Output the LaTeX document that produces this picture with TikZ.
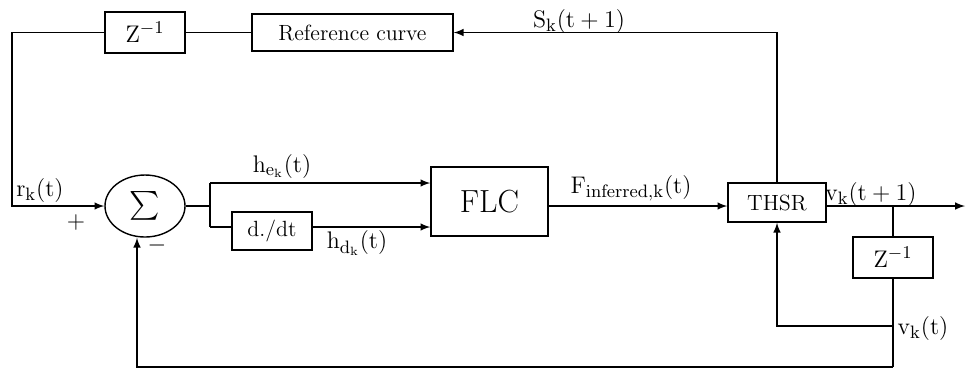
\documentclass[tikz,border=0pt]{standalone}
\usepackage{amsmath, amssymb}
\usepackage{tikz}
\usetikzlibrary{shapes.geometric}
\newcommand{\zinv}{$\mathrm{Z^{-1}}$}

\begin{document}
\begin{tikzpicture}[x=0.5pt, y=-0.5pt, >=latex, line width=0.7pt,
    blk/.style={draw, rectangle, inner sep=0pt},
    lbl/.style={font=\fontsize{12.5}{14}\selectfont, inner sep=0pt}]
    \useasboundingbox (0,0) rectangle (967,372);

    % Blocks
    \node[blk, minimum width=40pt, minimum height=20.5pt, font=\fontsize{13}{15}\selectfont] (zdel) at (145, 32.5) {\zinv};
    \node[blk, minimum width=100.5pt, minimum height=18.5pt, font=\fontsize{11}{13}\selectfont] (refc) at (352.5, 32.5) {Reference curve};
    \node[draw, ellipse, minimum width=40pt, minimum height=31pt, inner sep=0pt, font=\Large] (sum) at (145, 206) {$\sum$};
    \node[blk, minimum width=40pt, minimum height=19pt, font=\fontsize{11}{13}\selectfont] (ddt) at (272, 231) {d./dt};
    \node[blk, minimum width=58.5pt, minimum height=34.5pt, font=\fontsize{16}{18}\selectfont] (flc) at (489.5, 201.5) {FLC};
    \node[blk, minimum width=49pt, minimum height=19.5pt, font=\fontsize{11}{13}\selectfont] (thsr) at (777, 202.5) {THSR};
    \node[blk, minimum width=40pt, minimum height=20.5pt, font=\fontsize{13}{15}\selectfont] (zdel2) at (893, 257.5) {\zinv};

    % Branch points
    \coordinate (tl) at (12, 32.5);
    \coordinate (split) at (210, 206);
    \coordinate (hi) at (210, 183);
    \coordinate (lo) at (210, 227);
    \coordinate (tap) at (893, 206);
    \coordinate (fbk) at (893, 326);
    \coordinate (bot) at (893, 367);
    \coordinate (out) at (965, 206);

    % Signal lines
    \draw[->] (thsr.north) |- (refc.east);
    \draw (refc.west) -- (zdel.east);
    \draw[->] (zdel.west) -- (tl) |- (sum.west);
    \draw (sum.east) -- (split);
    \draw (hi) -- (lo);
    \draw[->] (hi) -- (hi -| flc.west);
    \draw (lo) -- (lo -| ddt.west);
    \draw[->] (lo -| ddt.east) -- (lo -| flc.west);
    \draw[->] (flc.east |- split) -- (thsr.west |- split);
    \draw[->] (thsr.east |- split) -- (out);
    \draw (tap) -- (zdel2.north);
    \draw (zdel2.south) -- (bot);
    \draw[->] (bot) -| ([xshift=-4pt]sum.south);
    \draw[->] (fbk) -| (thsr.south);

    % Labels
    \node[lbl] (slab) at (579, 21) {$\mathrm{S_k(t+1)}$};
    \node[lbl] (rlab) at (40, 190) {$\mathrm{r_k(t)}$};
    \node[lbl] (plus) at (76, 222) {$+$};
    \node[lbl] (minus) at (157, 245) {$-$};
    \node[lbl] (helab) at (282, 166) {$\mathrm{h_{e_k}(t)}$};
    \node[lbl] (hdlab) at (357, 243) {$\mathrm{h_{d_k}(t)}$};
    \node[lbl] (flab) at (631, 188) {$\mathrm{F_{inferred,k}(t)}$};
    \node[lbl] (vlab) at (871, 194) {$\mathrm{v_k(t+1)}$};
    \node[lbl] (vlab2) at (923, 328) {$\mathrm{v_k(t)}$};
\end{tikzpicture}
\end{document}
